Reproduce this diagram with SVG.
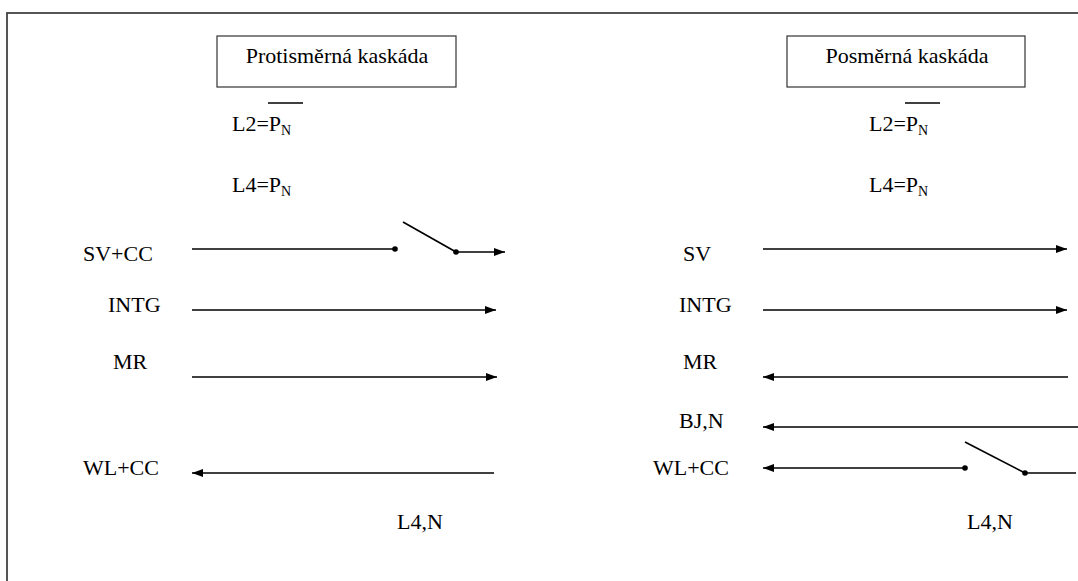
<svg xmlns="http://www.w3.org/2000/svg" width="1078" height="581" viewBox="0 0 1078 581">
<defs>
<style>
text{font-family:"Liberation Serif","DejaVu Serif","Times New Roman",serif;font-size:22px;fill:#000}
.sub{font-size:14px}
.ln{stroke:#000;stroke-width:1.7;fill:none}
.box{fill:#fff;stroke:#333;stroke-width:1.2}
.frame{fill:none;stroke:#444;stroke-width:1.8}
</style>
<marker id="ah" viewBox="0 0 11 8" refX="11" refY="4" markerWidth="11" markerHeight="8" markerUnits="userSpaceOnUse" orient="auto">
<path d="M0,0 L11,4 L0,8 z" fill="#000"/>
</marker>
</defs>
<rect width="1078" height="581" fill="#fff"/>
<rect class="frame" x="7" y="13" width="1120" height="620"/>

<g id="title-left" font-family="Liberation Serif, serif">
<rect class="box" x="217" y="36" width="239" height="51"/>
<text x="337" y="63" text-anchor="middle">Protisměrná kaskáda</text>
</g>
<g id="title-right" font-family="Liberation Serif, serif">
<rect class="box" x="787" y="36" width="238" height="51"/>
<text x="907" y="63" text-anchor="middle">Posměrná kaskáda</text>
</g>

<g id="cond-left" font-family="Liberation Serif, serif">
<text x="232" y="131">L2=P<tspan class="sub" dy="4">N</tspan></text>
<line class="ln" x1="268" y1="103" x2="303" y2="103" stroke-width="1.3"/>
<text x="232" y="192">L4=P<tspan class="sub" dy="4">N</tspan></text>
</g>
<g id="cond-right" font-family="Liberation Serif, serif">
<text x="869" y="131">L2=P<tspan class="sub" dy="4">N</tspan></text>
<line class="ln" x1="905" y1="103" x2="940" y2="103" stroke-width="1.3"/>
<text x="869" y="192">L4=P<tspan class="sub" dy="4">N</tspan></text>
</g>

<g id="labels-left" font-family="Liberation Serif, serif">
<text x="83" y="261">SV+CC</text>
<text x="108" y="312">INTG</text>
<text x="113" y="369">MR</text>
<text x="83" y="475">WL+CC</text>
<text x="397" y="529">L4,N</text>
</g>
<g id="labels-right" font-family="Liberation Serif, serif">
<text x="683" y="261">SV</text>
<text x="679" y="312">INTG</text>
<text x="683" y="369">MR</text>
<text x="679" y="428">BJ,N</text>
<text x="653" y="475">WL+CC</text>
<text x="967" y="529">L4,N</text>
</g>

<g id="connectors">
<line class="ln" x1="192" y1="249" x2="395" y2="249"/>
<circle cx="395" cy="249" r="2.8"/>
<line class="ln" x1="403" y1="222" x2="456" y2="252"/>
<circle cx="456" cy="252" r="2.8"/>
<line class="ln" x1="456" y1="252" x2="505" y2="252" marker-end="url(#ah)"/>
<line class="ln" x1="192" y1="310" x2="496" y2="310" marker-end="url(#ah)"/>
<line class="ln" x1="192" y1="377" x2="497" y2="377" marker-end="url(#ah)"/>
<line class="ln" x1="494" y1="473" x2="192" y2="473" marker-end="url(#ah)"/>

<line class="ln" x1="763" y1="249" x2="1067" y2="249" marker-end="url(#ah)"/>
<line class="ln" x1="763" y1="310" x2="1067" y2="310" marker-end="url(#ah)"/>
<line class="ln" x1="1068" y1="377" x2="763" y2="377" marker-end="url(#ah)"/>
<line class="ln" x1="1079" y1="427" x2="763" y2="427" marker-end="url(#ah)"/>
<line class="ln" x1="965" y1="468" x2="763" y2="468" marker-end="url(#ah)"/>
<circle cx="965" cy="468" r="2.8"/>
<line class="ln" x1="965" y1="442" x2="1025" y2="473"/>
<circle cx="1025" cy="473" r="2.8"/>
<line class="ln" x1="1025" y1="473" x2="1076" y2="473"/>
</g>
</svg>
